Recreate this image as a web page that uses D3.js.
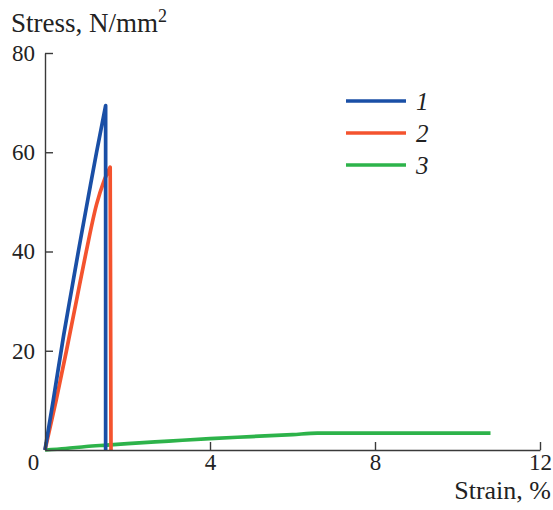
<!DOCTYPE html>
<html>
<head>
<meta charset="utf-8">
<script src="https://cdn.jsdelivr.net/npm/d3@7/dist/d3.min.js"></script>
<style>
  html, body { margin: 0; padding: 0; background: #fff; }
  svg { display: block; font-family: "Liberation Serif", "DejaVu Serif", serif; }
  .axis path, .axis line { stroke: #3a3a3a; stroke-width: 1.4; }
  .axis text { font-size: 23px; fill: #222; font-family: "Liberation Serif", serif; }
</style>
</head>
<body>
<svg id="chart" width="553" height="510"></svg>
<script>
// Stress–strain curves (strain in %, stress in N/mm²); the last point of 1 and 2 is the fracture drop
const strain1 = [0, 0.2, 0.45, 0.65, 0.83, 1.05, 1.25, 1.47, 1.47];
const stress1 = [0, 10, 23, 32.5, 41, 51, 60, 69.4, 0];

const strain2 = [0, 0.27, 0.52, 0.76, 1.0, 1.25, 1.42, 1.58, 1.6];
const stress2 = [0, 10, 20, 30, 40, 49.5, 54, 57, 0];

const strain3 = [0, 0.5, 1.0, 1.5, 2, 3, 4, 5, 6, 6.6, 8, 10.8];
const stress3 = [0, 0.3, 0.7, 1.0, 1.3, 1.8, 2.3, 2.7, 3.1, 3.4, 3.4, 3.4];

const seriesNames = ["1", "2", "3"];
const seriesColors = ["#1a4fa6", "#f4532e", "#2db34a"];
const fractures = [true, true, false];

const xTicks = [0, 4, 8, 12];
const yTicks = [20, 40, 60, 80];

const svg = d3.select("#chart");
const x = d3.scaleLinear().domain([0, 12]).range([45, 540]);
const y = d3.scaleLinear().domain([0, 80]).range([450, 53]);

const series = [
  { xs: strain1, ys: stress1 },
  { xs: strain2, ys: stress2 },
  { xs: strain3, ys: stress3 }
];

const smooth = d3.line().x(d => x(d[0])).y(d => y(d[1])).curve(d3.curveMonotoneX);

// Curves (green underneath so the vertical drops stay visible)
[2, 1, 0].forEach(i => {
  const s = series[i];
  const pts = s.xs.map((v, k) => [v, s.ys[k]]);
  let d;
  if (fractures[i]) {
    const drop = pts[pts.length - 1];
    d = smooth(pts.slice(0, -1)) + `L${x(drop[0])},${y(drop[1])}`;
  } else {
    d = smooth(pts);
  }
  svg.append("path")
    .attr("fill", "none")
    .attr("stroke", seriesColors[i])
    .attr("stroke-width", 3.7)
    .attr("stroke-linejoin", "round")
    .attr("d", d);
});

// Axes with inward ticks
const xAxis = svg.append("g").attr("class", "axis")
  .attr("transform", `translate(0,${y(0)})`)
  .call(d3.axisBottom(x).tickValues(xTicks).tickSize(-8).tickPadding(4).tickSizeOuter(0));
xAxis.selectAll(".tick").filter(d => d === 0).select("text").attr("dx", -12);

svg.append("g").attr("class", "axis")
  .attr("transform", `translate(${x(0)},0)`)
  .call(d3.axisLeft(y).tickValues(yTicks).tickSize(-8).tickPadding(10).tickSizeOuter(0));

// Axis titles
const yTitle = svg.append("text")
  .attr("x", 11).attr("y", 32)
  .attr("font-size", 27).attr("fill", "#222");
yTitle.append("tspan").text("Stress, N/mm");
yTitle.append("tspan").text("2").attr("font-size", 18).attr("dy", -10);

svg.append("text")
  .attr("x", 551).attr("y", 499)
  .attr("text-anchor", "end")
  .attr("font-size", 26).attr("fill", "#222")
  .text("Strain, %");

// Legend
const legendY = [101, 133, 165];
seriesNames.forEach((name, i) => {
  svg.append("line")
    .attr("x1", 346).attr("x2", 406)
    .attr("y1", legendY[i]).attr("y2", legendY[i])
    .attr("stroke", seriesColors[i]).attr("stroke-width", 3.7);
  svg.append("text")
    .attr("x", 416).attr("y", legendY[i] + 9)
    .attr("font-size", 25).attr("font-style", "italic").attr("fill", "#222")
    .text(name);
});
</script>
</body>
</html>
